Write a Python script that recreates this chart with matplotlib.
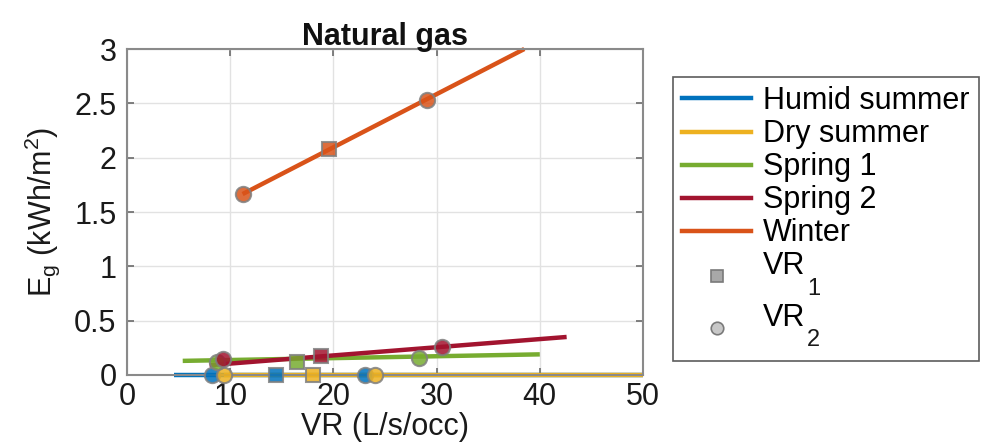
import matplotlib
matplotlib.use("Agg")
import matplotlib.pyplot as plt
from matplotlib.lines import Line2D
from matplotlib.text import Annotation

plt.rcParams['font.family'] = ['Liberation Sans', 'DejaVu Sans']
plt.rcParams['mathtext.fontset'] = 'custom'
plt.rcParams['mathtext.rm'] = 'Liberation Sans'
plt.rcParams['mathtext.it'] = 'Liberation Sans:italic'

# ---- data ----
seasons = ["Humid summer", "Dry summer", "Spring 1", "Spring 2", "Winter"]
colors = ["#0072BD", "#EDB120", "#77AC30", "#A2142F", "#D95319"]
# fitted line end points
line_x = [[4.6, 50.0], [9.4, 50.0], [5.4, 40.0], [8.0, 42.6], [11.2, 38.5]]
line_y = [[0.0, 0.0], [0.0, 0.0], [0.13, 0.19], [0.09, 0.35], [1.665, 3.0]]
# VR1 (square) points
vr1_x = [14.4, 18.0, 16.5, 18.8, 19.6]
vr1_y = [0.0, 0.0, 0.12, 0.175, 2.076]
# VR2 (circle) points
vr2_x = [[8.2, 23.1], [9.4, 24.0], [8.7, 28.3], [9.3, 30.5], [11.2, 29.1]]
vr2_y = [[0.0, 0.0], [0.0, 0.0], [0.12, 0.16], [0.145, 0.26], [1.665, 2.53]]
xticks = [0, 10, 20, 30, 40, 50]
yticks = [0, 0.5, 1, 1.5, 2, 2.5, 3]
ytick_labels = ["0", "0.5", "1", "1.5", "2", "2.5", "3"]
marker_labels = ["VR", "VR"]
marker_subs = ["1", "2"]

FS = 22

fig = plt.figure(figsize=(9.83, 4.48), dpi=100)
ax = fig.add_axes([127/983, 1-375/448, (643-127)/983, (375-49)/448])

for i in range(len(seasons)):
    ax.plot(line_x[i], line_y[i], color=colors[i], lw=3.2, solid_capstyle='butt',
            zorder=2 + i * 0.1, clip_on=False)
for i in range(len(seasons)):
    ax.plot(vr1_x[i], vr1_y[i], 's', ms=10, mfc=colors[i], mec='#808080', mew=1.5,
            alpha=0.85, zorder=4, clip_on=False)
    ax.plot(vr2_x[i], vr2_y[i], 'o', ms=11, mfc=colors[i], mec='#808080', mew=1.5,
            alpha=0.85, zorder=4, clip_on=False)

ax.set_xlim(0, 50)
ax.set_ylim(0, 3)
ax.set_xticks(xticks)
ax.set_yticks(yticks)
ax.set_yticklabels(ytick_labels)
ax.grid(True, color='#e2e2e2', lw=1.0)
ax.set_axisbelow(True)
for s in ax.spines.values():
    s.set_color('#8a8a8a')
    s.set_linewidth(1.5)
ax.tick_params(direction='in', length=5, width=1.2, color='#6a6a6a',
               labelsize=FS, labelcolor='#1a1a1a', top=True, right=True,
               labeltop=False, labelright=False)
ax.tick_params(axis='y', pad=7.5)
ax.tick_params(axis='x', pad=5)
ax.set_title("Natural gas", fontsize=FS, fontweight='bold', pad=3, color='#111111')
ax.set_xlabel("VR (L/s/occ)", fontsize=FS, labelpad=0, color='#1a1a1a')
ax.set_ylabel(r"E$_\mathrm{g}$ (kWh/m$^2$)", fontsize=FS, labelpad=9, color='#1a1a1a')

handles = [Line2D([], [], color=c, lw=3.2) for c in colors]
handles.append(Line2D([], [], ls='none', marker='s', ms=8, mfc='#a8a8a8', mec='#7a7a7a', mew=1.2))
handles.append(Line2D([], [], ls='none', marker='o', ms=9, mfc='#c8c8c8', mec='#7a7a7a', mew=1.2))
labels = seasons + [m + "\n" for m in marker_labels]
leg = fig.legend(handles, labels, loc='upper left', bbox_to_anchor=(673/983, 1-77/448),
                 fontsize=FS, frameon=True, fancybox=False, edgecolor='#333333',
                 handlelength=2.25, handletextpad=0.4, labelspacing=0.1,
                 borderpad=0.3, borderaxespad=0)
leg.get_frame().set_linewidth(1.2)
texts = leg.get_texts()
for t, sub in zip(texts[len(seasons):], marker_subs):
    t.set_linespacing(0.5)
    a = Annotation(sub, xy=(1.0, 1.0), xycoords=t, xytext=(1, -19), textcoords='offset points',
                   ha='left', va='top', fontsize=17, color='#1a1a1a', annotation_clip=False)
    a.set_zorder(20)
    fig.add_artist(a)

fig.savefig("out.png", dpi=100)
